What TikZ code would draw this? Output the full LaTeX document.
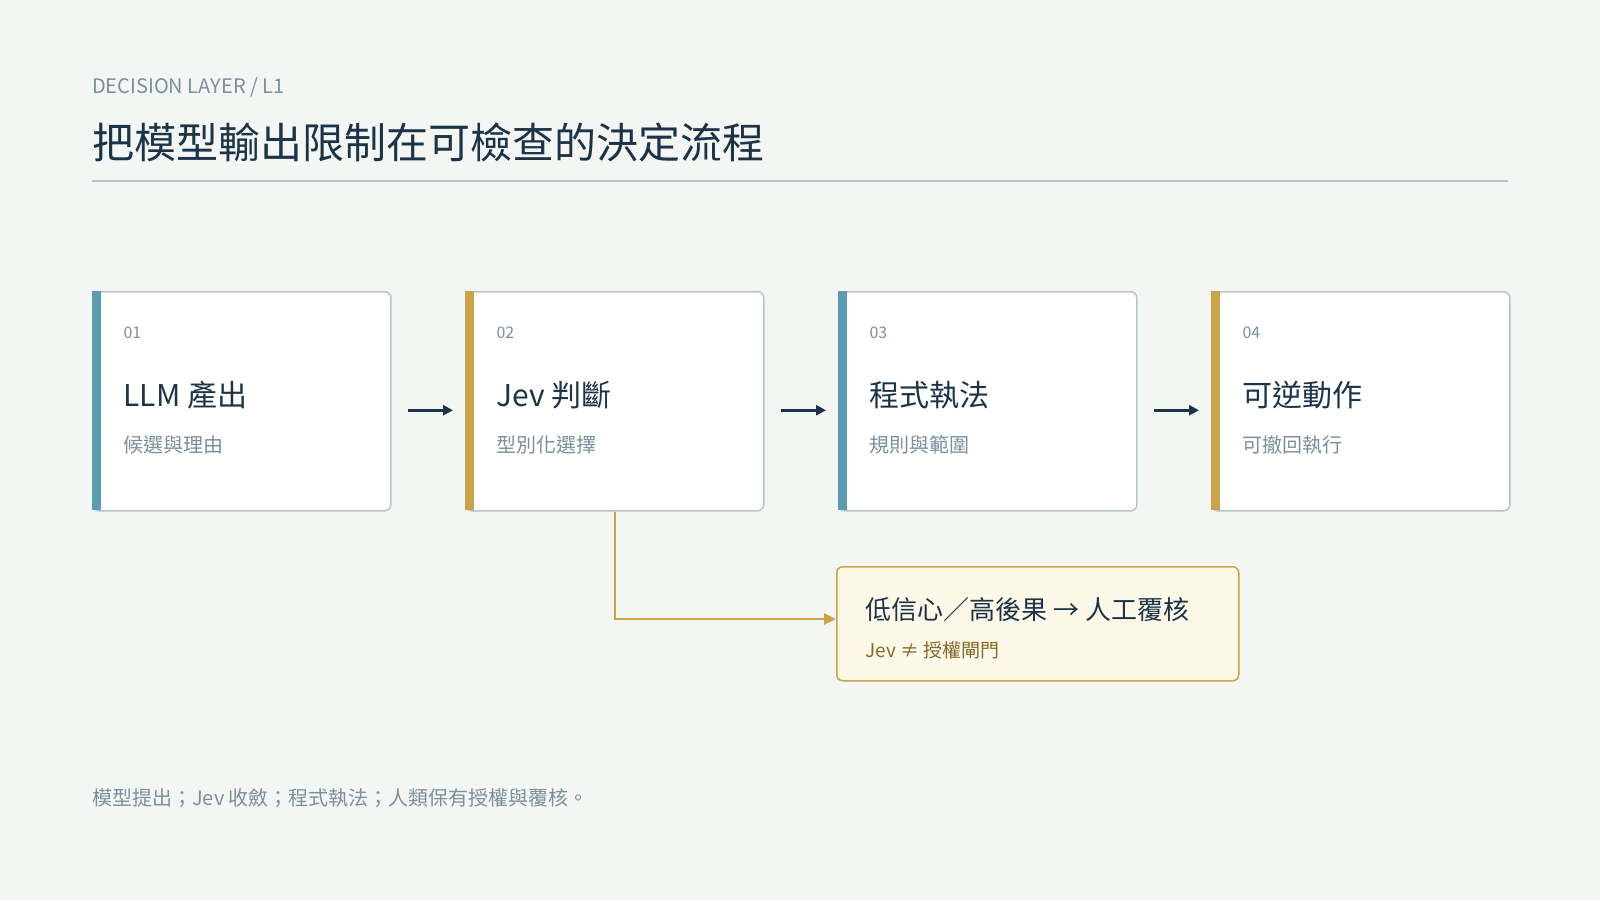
\documentclass[tikz,border=0pt]{standalone}
\usepackage{fontspec}
\setmainfont{Noto Sans CJK TC}
\usetikzlibrary{arrows.meta,positioning,calc}
\definecolor{bgc}{HTML}{F4F6F3}
\definecolor{ink}{HTML}{1C3447}
\definecolor{mute}{HTML}{7B909E}
\definecolor{edgec}{HTML}{B5C3CA}
\definecolor{teal}{HTML}{5A9CB0}
\definecolor{gold}{HTML}{C9A548}
\definecolor{cream}{HTML}{FDF8E8}
\definecolor{brown}{HTML}{86692C}
\tikzset{
  card/.style={draw=edgec,line width=1.5pt,fill=white,rounded corners=6pt,minimum width=298pt,minimum height=219pt,anchor=north west,inner sep=0pt},
  num/.style={anchor=west,font=\fontsize{16}{18}\selectfont,text=mute},
  head/.style={anchor=west,font=\fontsize{30}{34}\selectfont,text=ink},
  sub/.style={anchor=west,font=\fontsize{20}{24}\selectfont,text=mute},
  flow/.style={-{Triangle[length=10pt,width=10pt]},line width=3pt,draw=ink}
}
\begin{document}
\begin{tikzpicture}[x=1pt,y=-1pt]
  \fill[bgc] (0,0) rectangle (1600,900);
  \useasboundingbox (0,0) rectangle (1600,900);
  % header
  \node[anchor=west,font=\fontsize{20}{24}\selectfont,text=mute,inner sep=0pt] (kick) at (92,87) {DECISION LAYER / L1};
  \node[anchor=west,font=\fontsize{42}{48}\selectfont,text=ink,inner sep=0pt] (ttl) at (92,142) {把模型輸出限制在可檢查的決定流程};
  \draw[edgec,line width=1.5pt] (92,181) -- (1508,181);
  % cards
  \foreach \i/\x/\c/\h/\s in {1/92/teal/LLM 產出/候選與理由, 2/465/gold/Jev 判斷/型別化選擇, 3/838/teal/程式執法/規則與範圍, 4/1211/gold/可逆動作/可撤回執行}{
    \node[card] (c\i) at (\x,291) {};
    \fill[\c] (\x,291) rectangle ++(9,219);
    \node[num] at (\x+28,333) {0\i};
    \node[head] at (\x+28,395) {\h};
    \node[sub] at (\x+28,445) {\s};
  }
  \foreach \a/\b in {1/2,2/3,3/4}
    \draw[flow] ([xshift=16pt,yshift=-9pt]c\a.east) -- ([xshift=-12pt,yshift=-9pt]c\b.west);
  % escalation
  \node[draw=gold,line width=1.5pt,fill=cream,rounded corners=6pt,minimum width=402pt,minimum height=114pt,anchor=north west] (rev) at (836,566) {};
  \node[anchor=west,font=\fontsize{26}{30}\selectfont,text=ink] at (862,610) {低信心／高後果 → 人工覆核};
  \node[anchor=west,font=\fontsize{19}{22}\selectfont,text=brown] at (862,650) {Jev ≠ 授權閘門};
  \draw[gold,line width=2.5pt,-{Triangle[length=12pt,width=11pt]}] (c2.south) |- (rev.west |- 0,619);
  % footer
  \node[anchor=west,font=\fontsize{20}{24}\selectfont,text=mute,inner sep=0pt] (foot) at (92,798) {模型提出；Jev 收斂；程式執法；人類保有授權與覆核。};
\end{tikzpicture}
\end{document}
